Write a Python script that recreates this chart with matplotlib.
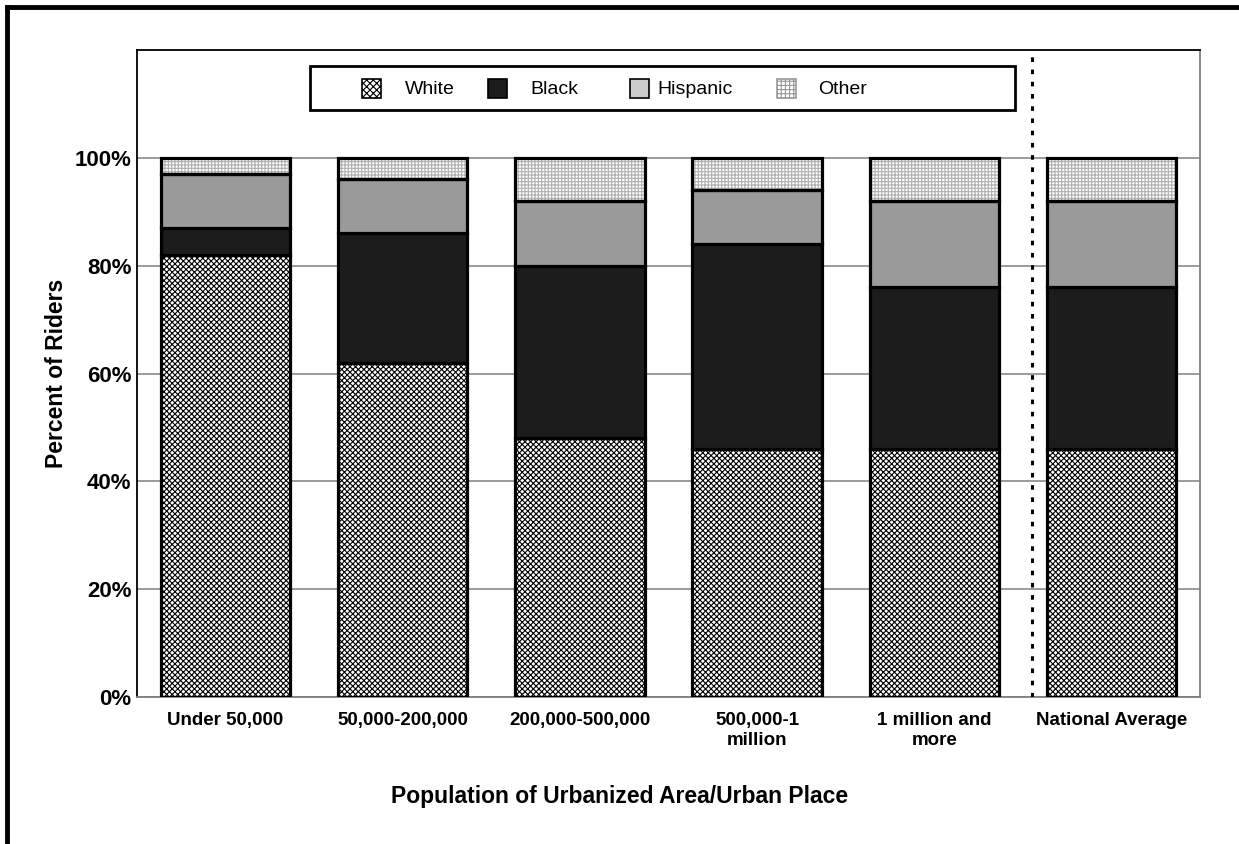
import numpy as np
import matplotlib
matplotlib.use("Agg")
from matplotlib import pyplot as plt
from matplotlib.patches import Rectangle
from matplotlib.lines import Line2D

plt.rcParams['font.family'] = ['Liberation Sans', 'DejaVu Sans']
plt.rcParams['hatch.linewidth'] = 0.8

# categorias e valores (% de passageiros)
categorias = ['Under 50,000', '50,000-200,000', '200,000-500,000',
              '500,000-1\nmillion', '1 million and\nmore', 'National Average']
white = [82, 62, 48, 46, 46, 46]
black = [5, 24, 32, 38, 30, 30]
hispanic = [10, 10, 12, 10, 16, 16]
other = [3, 4, 8, 6, 8, 8]
grupos = ['White', 'Black', 'Hispanic', 'Other']

W, H = 1239, 844
fig = plt.figure(figsize=(W/100, H/100), dpi=100)
ax = fig.add_axes([137/W, 1-697/H, (1200-137)/W, (697-50)/H])

x = np.arange(len(categorias))
w = 0.73
lw = 2.3
base = np.zeros(len(x))

# white: hachura cruzada preta
ax.bar(x, white, w, bottom=base, color='white', edgecolor='black', hatch='xxxxxx', linewidth=0, zorder=2)
ax.bar(x, white, w, bottom=base, fill=False, edgecolor='black', linewidth=lw, zorder=3)
base += white
# black
ax.bar(x, black, w, bottom=base, color='#1c1c1c', edgecolor='black', linewidth=lw, zorder=3)
base += black
# hispanic
ax.bar(x, hispanic, w, bottom=base, color='#9a9a9a', edgecolor='black', linewidth=lw, zorder=3)
base += hispanic
# other: padrão pontilhado claro
ax.bar(x, other, w, bottom=base, color='white', edgecolor='#b0b0b0', hatch='+++++', linewidth=0, zorder=2)
ax.bar(x, other, w, bottom=base, fill=False, edgecolor='black', linewidth=lw, zorder=3)

# linha pontilhada separando a média nacional
ax.axvline(4.55, color='black', linestyle=(0, (1.5, 2.5)), linewidth=2.2, zorder=4)

ax.set_xlim(-0.5, len(x) - 0.5)
ax.set_ylim(0, 120)
ax.set_yticks([0, 20, 40, 60, 80, 100])
ax.set_yticklabels(['0%', '20%', '40%', '60%', '80%', '100%'], fontsize=16, fontweight='bold')
ax.set_xticks(x)
ax.set_xticklabels(categorias, fontsize=13.5, fontweight='bold')
ax.tick_params(length=0)
ax.tick_params(axis='y', pad=4)
ax.tick_params(axis='x', pad=11)
ax.yaxis.grid(True, color='#808080', linewidth=1.1, zorder=0)
ax.set_axisbelow(True)
ax.spines['left'].set_color('black')
ax.spines['top'].set_color('black')
ax.spines['right'].set_color('#808080')
ax.spines['bottom'].set_color('#808080')
for s in ax.spines.values():
    s.set_linewidth(1.3)

ax.set_ylabel('Percent of Riders', fontsize=16.5, fontweight='bold', labelpad=5)
fig.text(0.5, 1-797/H, 'Population of Urbanized Area/Urban Place', ha='center', va='center',
         fontsize=16.5, fontweight='bold')

# legenda desenhada à mão (posições em pixels convertidas para fração dos eixos)
def ax_x(px):
    return (px - 137) / 1063

def ax_y(py):
    return (697 - py) / 647

caixa = Rectangle((ax_x(310), ax_y(110)), ax_x(1015) - ax_x(310), ax_y(66) - ax_y(110),
                  transform=ax.transAxes, facecolor='white', edgecolor='black', linewidth=2, zorder=5)
ax.add_patch(caixa)
estilos = [dict(facecolor='white', edgecolor='black', hatch='xxxxx'),
           dict(facecolor='#1c1c1c', edgecolor='black'),
           dict(facecolor='#cccccc', edgecolor='black'),
           dict(facecolor='white', edgecolor='#999999', hatch='++++')]
handle_px = [362, 488, 630, 777]
texto_px = [405, 530, 657, 818]
for nome, est, hx, tx in zip(grupos, estilos, handle_px, texto_px):
    ax.add_patch(Rectangle((ax_x(hx), ax_y(98)), ax_x(hx + 19) - ax_x(hx), ax_y(79) - ax_y(98),
                           transform=ax.transAxes, linewidth=1.2, zorder=6, **est))
    ax.text(ax_x(tx), ax_y(89), nome, transform=ax.transAxes, fontsize=14,
            ha='left', va='center', zorder=6)

# moldura da figura (só esquerda e topo visíveis)
fig.add_artist(Line2D([7/W, 7/W], [0, 1-7/H], color='black', linewidth=3.5))
fig.add_artist(Line2D([7/W, 1], [1-7/H, 1-7/H], color='black', linewidth=3.5))

fig.savefig('out.png', dpi=100)
